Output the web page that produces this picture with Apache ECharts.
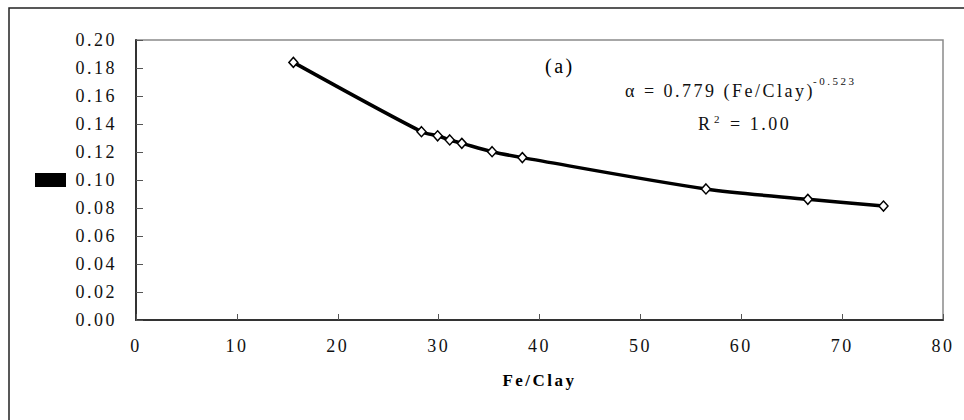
<!DOCTYPE html>
<html>
<head>
<meta charset="utf-8">
<script src="https://cdn.jsdelivr.net/npm/echarts@6/dist/echarts.min.js"></script>
<style>
  html, body { margin: 0; padding: 0; background: #fff; }
  #chart { width: 964px; height: 420px; }
  /* the reference text is spread out, svg text honours css letter-spacing */
  #chart text { letter-spacing: 2.5px; }
</style>
</head>
<body>
<div id="chart"></div>
<script>
// Fe/Clay ratio and alpha
const feClay = [15.6, 28.3, 29.9, 31.1, 32.3, 35.3, 38.3, 56.5, 66.6, 74.1]
const alpha = [0.184, 0.1345, 0.1316, 0.1286, 0.1262, 0.1202, 0.116, 0.0936, 0.0862, 0.0814]
const xTicks = [0, 10, 20, 30, 40, 50, 60, 70, 80]
const yTicks = [0, 0.02, 0.04, 0.06, 0.08, 0.1, 0.12, 0.14, 0.16, 0.18, 0.2]

const serif = "'Liberation Serif', 'Times New Roman', serif"
const chart = echarts.init(document.getElementById('chart'), null, { renderer: 'svg' })

const points = feClay.map((x, i) => [x, alpha[i]])

chart.setOption({
  animation: false,
  backgroundColor: '#fff',
  grid: {
    left: 136, right: 21, top: 40, bottom: 100,
    show: true, borderColor: '#8a8a8a', borderWidth: 1.5
  },
  xAxis: {
    type: 'value',
    min: xTicks[0], max: xTicks[xTicks.length - 1], interval: 10,
    name: 'Fe/Clay', nameLocation: 'middle', nameGap: 52,
    nameTextStyle: { fontFamily: serif, fontSize: 17, fontWeight: 'bold', color: '#000' },
    axisLine: { lineStyle: { color: '#333', width: 2 } },
    axisTick: { inside: true, length: 6, lineStyle: { color: '#555' } },
    axisLabel: { margin: 17, fontFamily: serif, fontSize: 18, color: '#111' },
    splitLine: { show: false }
  },
  yAxis: {
    type: 'value',
    min: yTicks[0], max: yTicks[yTicks.length - 1], interval: 0.02,
    axisLine: { show: true, lineStyle: { color: '#333', width: 2 } },
    axisTick: { show: true, inside: true, length: 7, lineStyle: { color: '#555' } },
    axisLabel: {
      margin: 19, fontFamily: serif, fontSize: 18, color: '#111',
      formatter: v => v.toFixed(2)
    },
    splitLine: { show: false }
  },
  series: [{
    type: 'line',
    data: points,
    smooth: 0.3,
    symbol: 'diamond',
    symbolSize: [9, 10],
    itemStyle: { color: '#fff', borderColor: '#000', borderWidth: 1.5 },
    lineStyle: { color: '#000', width: 3.5 },
    z: 3
  }],
  graphic: [
    // outer frame (runs off the right and bottom of the picture)
    { type: 'rect', shape: { x: 9, y: 8, width: 1000, height: 500 },
      style: { fill: 'none', stroke: '#222', lineWidth: 1.5 }, silent: true },
    // blacked-out y axis name
    { type: 'rect', shape: { x: 35, y: 173, width: 31, height: 14 },
      style: { fill: '#000' }, silent: true },
    { type: 'text', left: 545, top: 56,
      style: { text: '(a)', font: '20px ' + serif, fill: '#000' } },
    { type: 'text', x: 625, y: 90.5,
      style: { text: 'α = 0.779 (Fe/Clay)', font: '18px ' + serif, fill: '#111', verticalAlign: 'middle' } },
    { type: 'text', x: 813, y: 81,
      style: { text: '-0.523', font: '11px ' + serif, fill: '#111', verticalAlign: 'middle' } },
    { type: 'text', x: 698, y: 123.5,
      style: { text: 'R', font: '18px ' + serif, fill: '#111', verticalAlign: 'middle' } },
    { type: 'text', x: 714, y: 119,
      style: { text: '2', font: '11px ' + serif, fill: '#111', verticalAlign: 'middle' } },
    { type: 'text', x: 730, y: 123.5,
      style: { text: '= 1.00', font: '18px ' + serif, fill: '#111', verticalAlign: 'middle' } }
  ]
})
</script>
</body>
</html>
